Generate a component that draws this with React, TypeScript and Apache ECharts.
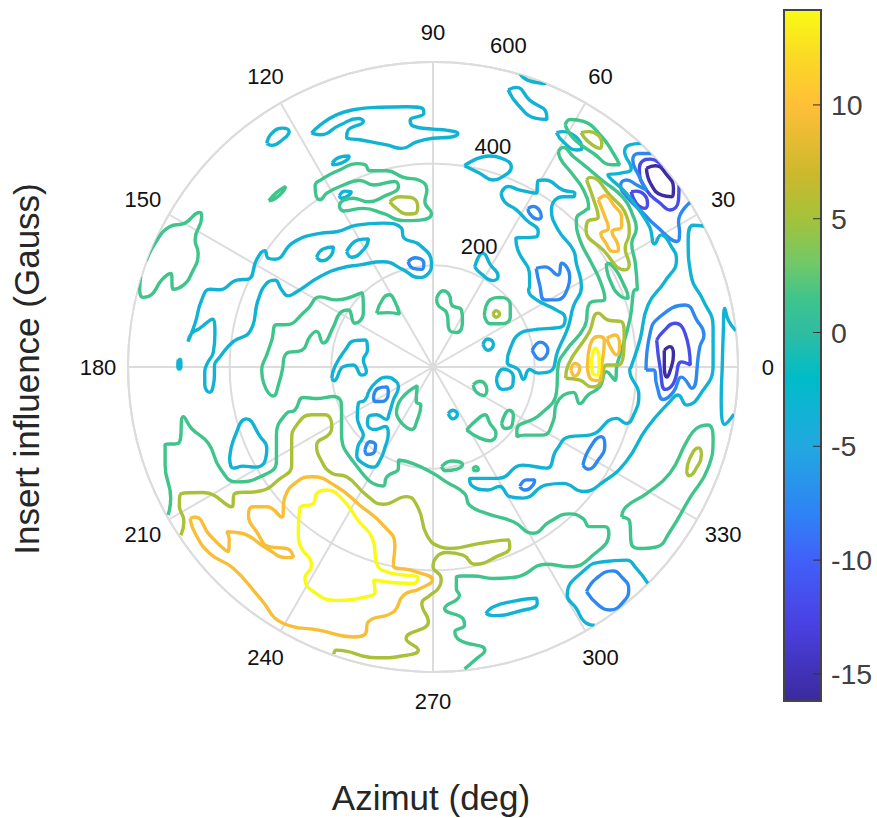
import React, { useEffect, useRef } from "react";
import * as echarts from "echarts";

// Contour paths: each point is [east, north] in the radial unit of the plot (ring 600 = rim).
type Pt = number[];
const purpleLoops: Pt[][] = [
  [[420,391],[437,396],[460,378],[473,352],[470,335],[450,338],[428,361]],
  [[455,33],[466,40],[473,24],[466,-9],[460,-20],[455,1]],
];
const indigoLoops: Pt[][] = [
  [[390,345],[400,346],[422,323],[417,312],[400,322]],
  [[440,53],[453,70],[476,86],[496,66],[506,4],[489,10],[473,-32],[457,-44],[447,-3]],
];
const indigoArcs: Pt[][] = [
  [[453,394],[427,409],[411,404],[406,388],[420,348],[447,322],[466,309],[483,329],[484,358]],
];
const blueLoops: Pt[][] = [
  [[-49,207],[-35,215],[-18,204],[-22,192],[-39,194]],
  [[-117,-58],[-108,-42],[-91,-39],[-88,-51],[-101,-68],[-114,-68]],
  [[-134,-163],[-124,-147],[-113,-154],[-117,-169],[-129,-172]],
  [[203,194],[220,197],[246,181],[253,204],[269,178],[266,158],[243,132],[220,132],[210,161]],
  [[187,312],[197,316],[213,296],[207,291],[190,302]],
  [[195,33],[211,49],[226,33],[211,15]],
  [[419,-6],[427,66],[443,96],[496,122],[519,92],[533,63],[525,40],[509,-42],[489,-20],[473,-49],[453,-64],[440,-35],[434,-6]],
  [[171,-235],[184,-222],[200,-222],[197,-232],[180,-242]],
  [[295,-193],[308,-160],[331,-137],[338,-154],[325,-183],[305,-201]],
  [[302,-442],[321,-416],[354,-401],[371,-413],[385,-436],[377,-459],[348,-478],[325,-468]],
];
const blueArcs: Pt[][] = [
  [[430,420],[404,420],[393,407],[404,378],[420,348],[401,358],[381,368],[369,358],[381,335],[414,302],[437,279],[480,247],[485,266],[483,286],[507,325]],
];
const cyanLoops: Pt[][] = [
  [[-239,460],[-222,476],[-190,496],[-157,506],[-104,511],[-52,512],[-19,507],[-18,499],[-45,485],[-39,474],[0,468],[26,466],[49,459],[33,452],[0,450],[-32,443],[-62,430],[-91,437],[-144,447],[-170,452],[-167,466],[-137,483],[-147,489],[-183,476],[-222,457]],
  [[-327,440],[-317,460],[-295,470],[-283,463],[-295,448],[-317,436]],
  [[-198,402],[-183,413],[-165,415],[-167,409],[-183,400],[-196,398]],
  [[-184,337],[-173,346],[-161,345],[-167,337],[-180,332]],
  [[-482,50],[-468,86],[-455,132],[-439,153],[-419,152],[-386,171],[-363,173],[-347,211],[-331,229],[-324,214],[-311,212],[-275,245],[-222,263],[-190,266],[-150,279],[-98,283],[-62,273],[-58,255],[-26,240],[-3,204],[-9,184],[-29,176],[-58,191],[-98,207],[-144,201],[-183,194],[-222,178],[-268,148],[-285,140],[-298,152],[-311,171],[-327,165],[-344,132],[-360,70],[-393,50],[-419,20],[-430,1],[-430,-16],[-432,-35],[-439,-50],[-449,-35],[-449,-9],[-444,7],[-432,30],[-429,66],[-434,94],[-459,76],[-475,66]],
  [[-229,216],[-216,232],[-196,236],[-199,222],[-219,209]],
  [[-170,227],[-147,250],[-127,252],[-134,234],[-160,216]],
  [[-501,15],[-497,15],[-496,2],[-499,-4],[-502,2]],
  [[-199,-22],[-193,1],[-173,33],[-154,52],[-134,53],[-129,33],[-137,14],[-131,-9],[-140,-16],[-157,4],[-176,1],[-195,-27]],
  [[-127,-49],[-111,-29],[-91,-20],[-72,-29],[-68,-39],[-78,-65],[-86,-91],[-92,-103],[-111,-94],[-127,-98],[-129,-111],[-114,-123],[-94,-117],[-88,-131],[-94,-157],[-104,-183],[-117,-197],[-137,-190],[-150,-173],[-147,-154],[-137,-134],[-144,-117],[-149,-98],[-147,-72],[-134,-65]],
  [[98,45],[108,55],[119,45],[108,33]],
  [[134,342],[148,355],[171,348],[203,342],[207,367],[220,368],[256,348],[279,342],[276,335],[256,335],[233,309],[246,270],[276,230],[282,204],[292,158],[276,119],[266,79],[246,33],[230,-9],[207,-12],[190,-5],[178,-24],[168,-5],[146,10],[152,37],[171,66],[197,73],[230,76],[253,79],[260,96],[243,112],[204,132],[188,152],[190,158],[190,178],[167,230],[163,253],[203,256],[207,266],[184,289],[164,309],[141,325]],
  [[62,396],[112,415],[134,411],[154,394],[131,371],[118,368],[92,381]],
  [[148,545],[164,550],[190,525],[223,499],[224,487],[203,489],[167,516]],
  [[243,461],[256,463],[293,430],[283,427],[256,443]],
  [[125,-22],[138,-4],[158,-19],[157,-35],[138,-44],[127,-35]],
  [[30,-92],[39,-85],[48,-93],[39,-102]],
  [[82,197],[98,224],[113,201],[128,179],[118,170],[95,183]],
  [[104,-485],[118,-472],[157,-461],[203,-455],[205,-465],[171,-480],[118,-489]],
  [[-400,-180],[-390,-137],[-367,-102],[-340,-137],[-327,-160],[-331,-186],[-350,-197],[-373,-195],[-393,-199]],
];
const cyanArcs: Pt[][] = [
  [[171,577],[187,564],[223,558]],
  [[410,440],[387,437],[377,424],[390,391],[367,381],[344,378],[380,342],[403,312],[426,276],[436,242],[449,260],[469,237],[479,211],[456,168],[423,122],[407,53],[390,1],[387,-6],[405,-55],[395,-94],[380,-111],[361,-101],[308,-134],[269,-137],[243,-163],[223,-199],[177,-193],[128,-219],[72,-219],[75,-232],[108,-242],[131,-235],[151,-255],[177,-258],[223,-232],[256,-229],[295,-245],[335,-226],[380,-186],[420,-121],[466,-68],[482,-55],[499,-75],[525,-55],[551,4],[551,79],[531,132],[508,178],[502,250],[512,279],[535,277]],
  [[596,71],[581,92],[574,115],[571,66],[569,1],[567,-62],[574,-113],[592,-93]],
  [[318,-508],[298,-501],[282,-475],[264,-449],[302,-396],[335,-383],[380,-380],[400,-396],[423,-426]],
];
const greenLoops: Pt[][] = [
  [[-229,332],[-232,355],[-216,371],[-183,388],[-150,400],[-134,398],[-124,386],[-91,386],[-58,373],[-26,367],[-12,348],[-16,325],[-3,302],[-26,289],[-58,288],[-98,302],[-137,312],[-176,307],[-184,317],[-157,332],[-127,325],[-98,335],[-68,355],[-75,365],[-117,358],[-144,367],[-176,358],[-209,342],[-222,329]],
  [[-323,327],[-308,343],[-290,355],[-295,345],[-311,331]],
  [[-295,1],[-304,-35],[-314,-57],[-333,-32],[-337,-6],[-327,24],[-317,53],[-308,83],[-291,83],[-249,112],[-222,138],[-190,132],[-140,146],[-137,106],[-154,86],[-167,112],[-183,106],[-196,79],[-216,47],[-229,70],[-242,60],[-258,33],[-288,27]],
  [[-111,106],[-98,135],[-86,142],[-75,129],[-66,104],[-88,107]],
  [[-72,-88],[-62,-62],[-31,-37],[-33,-68],[-24,-75],[-31,-104],[-42,-123],[-58,-114],[-70,-98]],
  [[7,135],[20,150],[32,142],[37,122],[56,112],[58,92],[47,68],[32,73],[27,106],[10,122]],
  [[101,102],[112,132],[132,137],[152,122],[152,99],[135,85],[112,85]],
  [[260,476],[270,487],[296,483],[332,453],[355,420],[367,398],[352,398],[316,420],[276,450]],
  [[247,424],[256,432],[276,414],[296,398],[332,368],[375,332],[394,296],[400,273],[391,243],[398,204],[402,152],[398,152],[387,92],[371,33],[362,4],[358,-26],[341,-9],[328,-39],[305,-55],[289,-72],[276,-50],[243,-72],[236,-108],[216,-134],[180,-134],[165,-137],[165,-124],[210,-94],[243,-49],[246,1],[262,33],[298,79],[308,125],[338,135],[328,171],[312,204],[289,250],[282,289],[302,310],[306,312],[296,348],[273,381],[250,411]],
  [[341,204],[351,201],[380,152],[384,135],[371,138],[348,171]],
  [[79,-35],[92,-28],[106,-45],[99,-56],[85,-49]],
  [[66,-124],[86,-104],[102,-94],[112,-111],[124,-131],[112,-145],[92,-140]],
  [[135,-111],[150,-85],[158,-94],[155,-116],[142,-121]],
  [[17,-196],[37,-185],[58,-192],[47,-201],[24,-204]],
  [[78,-201],[84,-196],[89,-201],[83,-204]],
  [[371,-295],[380,-275],[420,-249],[466,-209],[499,-147],[518,-121],[541,-114],[551,-140],[541,-199],[505,-258],[466,-324],[440,-354],[413,-357],[390,-347],[387,-304]],
];
const greenArcs: Pt[][] = [
  [[-564,209],[-547,243],[-518,276],[-488,283],[-459,304],[-455,296],[-468,250],[-462,224],[-475,184],[-491,161],[-511,153],[-516,184],[-534,171],[-554,142],[-570,137],[-577,152],[-575,178]],
  [[-521,-291],[-516,-258],[-527,-193],[-527,-153],[-501,-150],[-491,-98],[-475,-121],[-442,-150],[-419,-199],[-386,-226],[-340,-216],[-308,-186],[-308,-134],[-288,-91],[-272,-85],[-255,-60],[-226,-62],[-196,-58],[-180,-75],[-180,-127],[-157,-186],[-98,-234],[-91,-216],[-68,-199],[-68,-183],[-39,-190],[0,-209],[26,-226],[62,-249],[72,-272],[105,-288],[157,-304],[197,-327],[230,-304],[269,-289],[295,-298],[308,-314],[338,-314],[346,-327],[315,-370],[269,-393],[223,-388],[164,-413],[118,-416],[79,-411],[46,-413],[46,-436],[52,-449],[23,-475],[59,-495],[62,-508],[43,-521],[52,-537],[102,-557],[82,-577],[62,-594]],
];
const oliveLoops: Pt[][] = [
  [[-85,325],[-65,335],[-45,334],[-30,316],[-35,302],[-52,301],[-72,312]],
  [[118,104],[124,111],[131,104],[124,98]],
  [[291,461],[306,463],[332,440],[329,430],[306,443]],
  [[302,368],[309,373],[348,338],[381,296],[386,263],[378,234],[386,201],[378,191],[335,230],[301,270],[304,286],[325,295],[316,329]],
  [[261,-22],[266,4],[306,66],[325,106],[345,92],[371,89],[376,66],[365,4],[342,4],[329,-32],[312,-39],[289,-26]],
  [[499,-206],[505,-180],[522,-159],[528,-173],[518,-199],[504,-214]],
];
const oliveArcs: Pt[][] = [
  [[-496,-331],[-490,-304],[-499,-272],[-495,-249],[-452,-247],[-396,-275],[-390,-249],[-340,-244],[-304,-222],[-278,-193],[-278,-144],[-268,-114],[-239,-94],[-213,-94],[-199,-117],[-203,-131],[-229,-154],[-222,-180],[-199,-209],[-170,-216],[-131,-252],[-98,-270],[-52,-255],[-29,-278],[-12,-331],[14,-354],[33,-357],[92,-347],[148,-340],[151,-354],[125,-373],[82,-388],[59,-370],[26,-365],[0,-393],[16,-416],[10,-436],[-7,-450],[-22,-465],[-9,-501],[-53,-534],[-29,-557],[-52,-567],[-111,-572],[-190,-557],[-195,-565]],
];
const orangeLoops: Pt[][] = [
  [[325,329],[338,337],[355,319],[371,293],[371,276],[352,266],[363,243],[365,230],[355,227],[338,247],[330,262],[345,273],[338,296]],
  [[271,-6],[279,7],[289,-1],[279,-18]],
  [[304,4],[309,43],[325,60],[337,53],[332,4],[325,-27],[309,-22]],
  [[342,56],[358,63],[367,43],[361,24],[350,37]],
  [[-478,-298],[-468,-295],[-439,-331],[-403,-363],[-401,-337],[-406,-324],[-377,-327],[-327,-357],[-288,-375],[-275,-373],[-288,-357],[-321,-354],[-347,-324],[-363,-291],[-354,-275],[-327,-275],[-298,-295],[-291,-255],[-268,-226],[-239,-216],[-190,-235],[-144,-272],[-98,-311],[-75,-350],[-78,-390],[-39,-401],[-1,-419],[-26,-436],[-58,-449],[-78,-482],[-127,-501],[-134,-526],[-157,-531],[-222,-518],[-295,-504],[-340,-455],[-393,-396],[-439,-367],[-468,-327]],
];
const yellowLoops: Pt[][] = [
  [[312,14],[319,37],[327,17],[325,-16],[314,-12]],
  [[-265,-331],[-262,-278],[-235,-268],[-229,-249],[-209,-242],[-180,-258],[-150,-298],[-117,-344],[-111,-386],[-91,-403],[-29,-416],[-39,-426],[-117,-419],[-114,-442],[-131,-452],[-190,-459],[-235,-442],[-252,-416],[-239,-390],[-262,-350]],
];

// Contour level of each colour family, in Gauss.
const contourSets: [number, Pt[][], Pt[][]][] = [
  [-15.8, purpleLoops, []],
  [-11.7, indigoLoops, indigoArcs],
  [-7.5, blueLoops, blueArcs],
  [-3.4, cyanLoops, cyanArcs],
  [1.5, greenLoops, greenArcs],
  [5.2, oliveLoops, oliveArcs],
  [9.6, orangeLoops, []],
  [14.17, yellowLoops, []],
];

const colorStops: [number, string][] = [
  [-16.19, "#3b2a9c"], [-13, "#4a3fe0"], [-10, "#4160f8"], [-8, "#2f82f5"], [-5, "#22a8e0"],
  [-2, "#00bcc8"], [0, "#2ebda2"], [1.5, "#3fc48c"], [3, "#70c968"], [5, "#a4c23a"],
  [7, "#cdb82c"], [10, "#ffbf38"], [12, "#fbd825"], [14.17, "#f9fb15"],
];
const colorMin = -16.19;
const colorMax = 14.17;
const colorTicks = [-15, -10, -5, 0, 5, 10];
const angleTicks = [0, 30, 60, 90, 120, 150, 180, 210, 240, 270, 300, 330];
const angleLabelRadius = 659;
// radius label, [radius, angle] where the label sits
const radiusLabels: [string, number, number][] = [
  ["200", 253, 69],
  ["400", 450, 74.8],
  ["600", 649, 76.8],
];

function colorAt(v: number): string {
  for (let i = 1; i < colorStops.length; i++) {
    if (v <= colorStops[i][0]) {
      const [a, ca] = colorStops[i - 1];
      const [b, cb] = colorStops[i];
      return echarts.color.lerp((v - a) / (b - a), [ca, cb]) as string;
    }
  }
  return colorStops[colorStops.length - 1][1];
}

function toPolar([e, n]: Pt): number[] {
  const deg = (Math.atan2(n, e) * 180) / Math.PI;
  return [Math.hypot(e, n), deg < 0 ? deg + 360 : deg];
}

function buildContours() {
  const out: any[] = [];
  for (const [level, loops, arcs] of contourSets) {
    const color = colorAt(level);
    const curves = [...loops.map((l) => [...l, l[0]]), ...arcs];
    for (const curve of curves) {
      out.push({
        type: "line",
        coordinateSystem: "polar",
        polarIndex: 0,
        data: curve.map(toPolar),
        showSymbol: false,
        smooth: 0.5,
        smoothConstraint: false,
        clip: false,
        silent: true,
        lineStyle: { color, width: 3.4 },
        z: 3,
      });
    }
  }
  return out;
}

export default function App() {
  const ref = useRef<HTMLDivElement>(null);
  useEffect(() => {
    const chart = echarts.init(ref.current!, undefined, { renderer: "svg" });
    const fontFamily = "Liberation Sans";
    const tickLabel = { show: true, position: "inside", fontSize: 22, color: "#111111", formatter: (p: any) => p.value[2] };
    chart.setOption({
      animation: false,
      backgroundColor: "#ffffff",
      textStyle: { fontFamily },
      polar: { center: [433, 367], radius: 305 },
      angleAxis: {
        type: "value",
        min: 0,
        max: 360,
        interval: 30,
        startAngle: 0,
        clockwise: false,
        axisLine: { lineStyle: { color: "#dcdcdc", width: 2 } },
        axisTick: { show: false },
        axisLabel: { show: false },
        splitLine: { show: true, lineStyle: { color: "#dcdcdc", width: 2 } },
      },
      radiusAxis: {
        type: "value",
        min: 0,
        max: 600,
        interval: 200,
        axisLine: { show: false },
        axisTick: { show: false },
        axisLabel: { show: false },
        splitLine: { show: true, lineStyle: { color: "#dcdcdc", width: 2 } },
      },
      grid: { left: 784, top: 10, width: 37, height: 691 },
      xAxis: { type: "value", min: 0, max: 1, show: false },
      yAxis: {
        type: "value",
        position: "right",
        min: colorMin,
        max: colorMax,
        axisLine: { show: false },
        splitLine: { show: false },
        axisTick: { show: false },
        axisLabel: { fontSize: 28.5, color: "#404040", margin: 10, padding: [6, 0, 0, 0], fontFamily, customValues: colorTicks },
      },
      graphic: [
        { type: "text", x: 26, y: 369, rotation: Math.PI / 2, style: { text: "Insert influence (Gauss)", font: `35px ${fontFamily}`, fill: "#262626", align: "center", verticalAlign: "middle" } },
        { type: "text", x: 431, y: 797, style: { text: "Azimut (deg)", font: `35px ${fontFamily}`, fill: "#262626", align: "center", verticalAlign: "middle" } },
      ],
      series: [
        ...buildContours(),
        {
          type: "scatter",
          coordinateSystem: "polar",
          clip: false,
          silent: true,
          symbolSize: 1,
          itemStyle: { color: "transparent", opacity: 1 },
          data: angleTicks.map((a) => [angleLabelRadius, a, String(a)]),
          label: tickLabel,
          z: 6,
        },
        {
          type: "scatter",
          coordinateSystem: "polar",
          clip: false,
          silent: true,
          symbolSize: 1,
          itemStyle: { color: "transparent", opacity: 1 },
          data: radiusLabels.map(([t, r, a]) => [r, a, t]),
          label: tickLabel,
          z: 6,
        },
        {
          type: "custom",
          coordinateSystem: "cartesian2d",
          silent: true,
          data: [[colorMin, colorMax]],
          renderItem: (_: any, api: any) => {
            const tl = api.coord([0, colorMax]);
            const br = api.coord([1, colorMin]);
            const range = colorMax - colorMin;
            return {
              type: "group",
              children: [
                {
                  type: "rect",
                  shape: { x: tl[0], y: tl[1], width: br[0] - tl[0], height: br[1] - tl[1] },
                  style: {
                    fill: new echarts.graphic.LinearGradient(
                      0, 0, 0, 1,
                      colorStops.map(([v, color]) => ({ offset: (colorMax - v) / range, color })).reverse()
                    ),
                    stroke: "#444444",
                    lineWidth: 2,
                  },
                },
                ...colorTicks.map((t) => {
                  const p = api.coord([1, t]);
                  return {
                    type: "line",
                    shape: { x1: p[0] - 8, y1: p[1], x2: p[0], y2: p[1] },
                    style: { stroke: "#333333", lineWidth: 1 },
                  };
                }),
              ],
            };
          },
        },
      ],
    });
    return () => chart.dispose();
  }, []);
  return <div ref={ref} style={{ position: "absolute", left: 0, top: 0, width: 877, height: 818 }} />;
}
